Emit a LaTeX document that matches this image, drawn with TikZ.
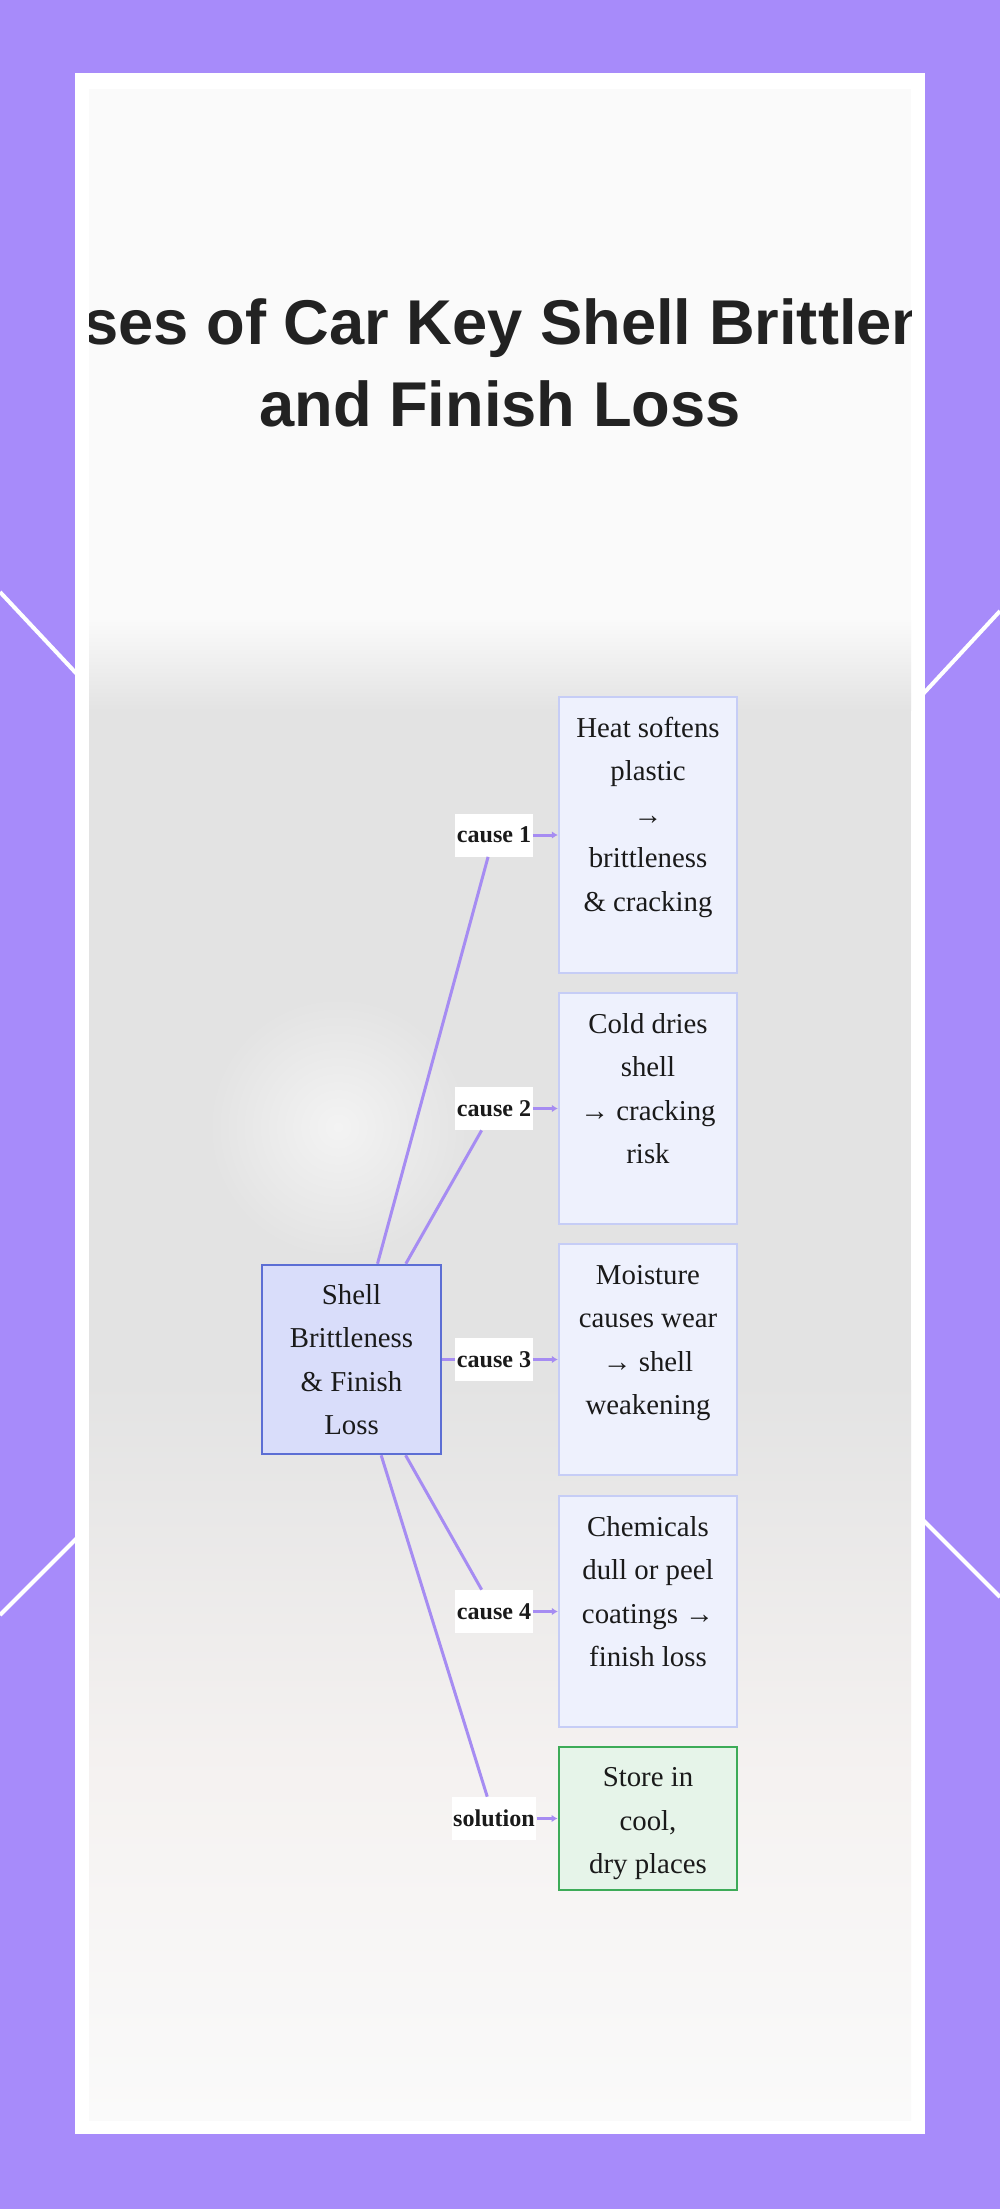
\documentclass[tikz,border=0pt]{standalone}
\usepackage{fontspec}
\setmainfont{Liberation Serif}
\newfontfamily\titlefont{Liberation Sans}
\usepackage{tikz}
\usetikzlibrary{arrows.meta,positioning}
\definecolor{frame}{HTML}{A78BFA}
\definecolor{ink}{HTML}{1A1A1A}
\definecolor{titleink}{HTML}{222222}
\definecolor{linkcol}{HTML}{A68CF2}
\definecolor{rootfill}{HTML}{D9DDFA}
\definecolor{rootdraw}{HTML}{5C6ED4}
\definecolor{causefill}{HTML}{EEF1FD}
\definecolor{causedraw}{HTML}{C6CDF6}
\definecolor{fixfill}{HTML}{E6F4E9}
\definecolor{fixdraw}{HTML}{3DAB58}
\definecolor{bgtop}{HTML}{FAFAFA}
\definecolor{bgmid}{HTML}{E3E3E3}
\definecolor{bglow}{HTML}{F5F2F1}
\tikzset{
  titletext/.style={align=center,text=titleink,inner sep=0pt,
                    font=\titlefont\bfseries\fontsize{36}{46.6}\selectfont},
  rootbox/.style={draw=rootdraw,fill=rootfill,line width=0.5mm,
                  minimum width=35.8mm,minimum height=37.8mm,
                  align=center,text=ink,inner sep=0pt,
                  font=\fontsize{16.4}{24.75}\selectfont},
  causebox/.style={draw=causedraw,fill=causefill,line width=0.45mm,
                   minimum width=35.6mm,inner sep=0pt},
  fixbox/.style={draw=fixdraw,fill=fixfill,line width=0.55mm,
                 minimum width=35.6mm,inner sep=0pt},
  boxtext/.style={anchor=north,align=center,text=ink,inner sep=0pt,
                  font=\fontsize{16.4}{24.75}\selectfont},
  edgelabel/.style={fill=white,text=ink,inner xsep=0.3mm,inner ysep=0pt,
                    minimum height=8.6mm,
                    font=\bfseries\fontsize{13.7}{16}\selectfont},
  link/.style={draw=linkcol,line width=0.6mm},
  linkarr/.style={link,-{Latex[length=1.2mm,width=1.5mm]}}
}

\begin{document}
\begin{tikzpicture}[x=0.2mm,y=-0.2mm]
  \useasboundingbox (0,0) rectangle (1000,2209);
  % frame and faded backdrop
  \fill[frame] (0,0) rectangle (1000,2209);
  \draw[white,line width=0.8mm] (0,592) -- (90,688) (0,1615) -- (90,1525)
    (1000,611) -- (910,708) (1000,1597) -- (910,1507);
  \fill[white] (75,73) rectangle (925,2134);
  \fill[bgtop] (89,89) rectangle (911,620);
  \shade[top color=bgtop,bottom color=bgmid] (89,620) rectangle (911,710);
  \fill[bgmid] (89,710) rectangle (911,1380);
  \shade[top color=bgmid,bottom color=bglow] (89,1380) rectangle (911,1780);
  \shade[top color=bglow,bottom color=bgtop] (89,1780) rectangle (911,2120);
  \shade[inner color=bgtop!70!bgmid,outer color=bgmid] (338,1127) circle (130);

  \begin{scope}
    \clip (89,89) rectangle (911,2120);
    \node[titletext] (title) at (500,363) {Causes of Car Key Shell Brittleness\\and Finish Loss};
  \end{scope}

  \node[rootbox] (root) at (351.5,1359.5) {Shell\\Brittleness\\\& Finish\\Loss};

  \node[causebox,minimum height=55.2mm] (b1) at (648,835) {};
  \node[causebox,minimum height=46.2mm] (b2) at (648,1108.5) {};
  \node[causebox,minimum height=46.2mm] (b3) at (648,1359.5) {};
  \node[causebox,minimum height=46.2mm] (b4) at (648,1611.5) {};
  \node[fixbox,minimum height=28.6mm] (b5) at (648,1818.5) {};

  \node[boxtext] (t1) at ([yshift=-2.1mm]b1.north) {\strut Heat softens\\plastic\\→\\brittleness\\\& cracking};
  \node[boxtext] (t2) at ([yshift=-2.1mm]b2.north) {\strut Cold dries\\shell\\→ cracking\\risk};
  \node[boxtext] (t3) at ([yshift=-2.1mm]b3.north) {\strut Moisture\\causes wear\\→ shell\\weakening};
  \node[boxtext] (t4) at ([yshift=-2.1mm]b4.north) {\strut Chemicals\\dull or peel\\coatings →\\finish loss};
  \node[boxtext] (t5) at ([yshift=-2.1mm]b5.north) {\strut Store in\\cool,\\dry places};

  \foreach \i/\y/\lab in {1/835/cause 1,2/1108.5/cause 2,3/1359.5/cause 3,
                          4/1611.5/cause 4,5/1818.5/solution} {
    \node[edgelabel] (l\i) at (494,\y) {\lab};
  }
  \foreach \i in {1,...,5} {
    \draw[link] (root) -- (l\i);
    \draw[linkarr] (l\i) -- (b\i);
  }
\end{tikzpicture}
\end{document}
